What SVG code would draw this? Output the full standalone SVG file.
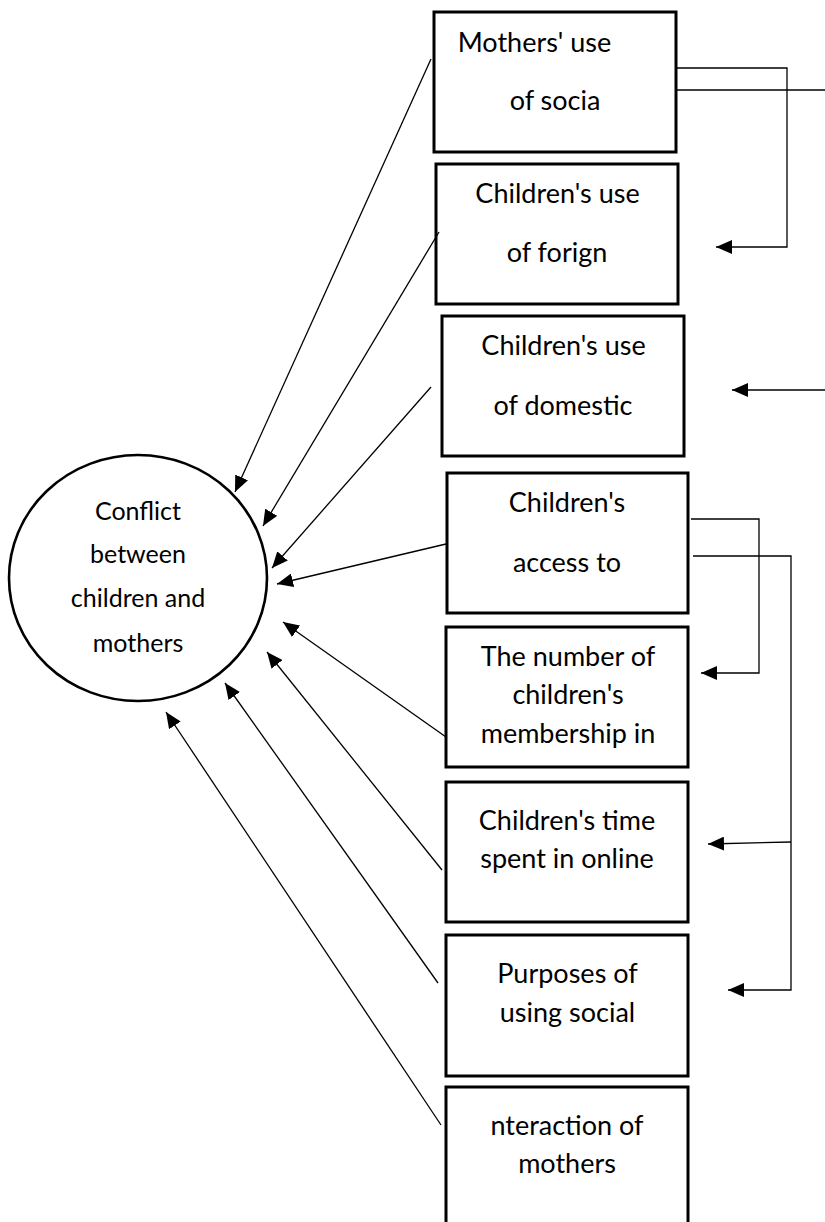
<svg xmlns="http://www.w3.org/2000/svg" width="825" height="1222" viewBox="0 0 825 1222">
<defs>
<marker id="ah" markerWidth="16" markerHeight="14" refX="16" refY="7" orient="auto" markerUnits="userSpaceOnUse">
<path d="M0,0 L16,7 L0,14 Z" fill="#000"/>
</marker>
<style>
.box{fill:#fff;stroke:#000;stroke-width:3}
.t{font-family:Lato,"Liberation Sans",sans-serif;font-size:27px;fill:#000;text-anchor:middle}
.tc{font-family:Lato,"Liberation Sans",sans-serif;font-size:25px;fill:#000;text-anchor:middle}
.c{fill:none;stroke:#000;stroke-width:1.3}
.ca{fill:none;stroke:#000;stroke-width:1.3;marker-end:url(#ah)}
</style>
</defs>
<rect width="825" height="1222" fill="#fff"/>
<g id="conflict">
<ellipse cx="138" cy="578" rx="129" ry="123" fill="#fff" stroke="#000" stroke-width="2.6"/>
<text class="tc" x="138" y="520">Conflict</text>
<text class="tc" x="138" y="563">between</text>
<text class="tc" x="138" y="607">children and</text>
<text class="tc" x="138" y="652">mothers</text>
</g>
<g id="box1">
<rect class="box" x="434" y="12" width="242" height="140"/>
<text class="t" x="534.5" y="52">Mothers' use</text>
<text class="t" x="555" y="110">of socia</text>
</g>
<g id="box2">
<rect class="box" x="436" y="164" width="242" height="140"/>
<text class="t" x="557.5" y="203">Children's use</text>
<text class="t" x="557" y="262">of forign</text>
</g>
<g id="box3">
<rect class="box" x="442" y="316" width="242" height="140"/>
<text class="t" x="563.5" y="355">Children's use</text>
<text class="t" x="563" y="415">of domestic</text>
</g>
<g id="box4">
<rect class="box" x="447" y="473" width="241" height="140"/>
<text class="t" x="567" y="512">Children's</text>
<text class="t" x="567" y="572">access to</text>
</g>
<g id="box5">
<rect class="box" x="446" y="627" width="242" height="140"/>
<text class="t" x="568" y="666">The number of</text>
<text class="t" x="568" y="704">children's</text>
<text class="t" x="568" y="743">membership in</text>
</g>
<g id="box6">
<rect class="box" x="446" y="782" width="242" height="140"/>
<text class="t" x="567" y="830">Children's time</text>
<text class="t" x="567" y="868">spent in online</text>
</g>
<g id="box7">
<rect class="box" x="446" y="935" width="242" height="141"/>
<text class="t" x="567.5" y="983">Purposes of</text>
<text class="t" x="567.5" y="1022">using social</text>
</g>
<g id="box8">
<rect class="box" x="446" y="1087" width="242" height="150"/>
<text class="t" x="567" y="1135">nteraction of</text>
<text class="t" x="567" y="1173">mothers</text>
</g>
<g id="connectors">
<line class="ca" x1="431" y1="59" x2="235" y2="492"/>
<line class="ca" x1="439" y1="232" x2="263" y2="526"/>
<line class="ca" x1="431" y1="387" x2="272" y2="568"/>
<line class="ca" x1="446" y1="544" x2="277" y2="584"/>
<line class="ca" x1="446" y1="737" x2="283" y2="622"/>
<line class="ca" x1="442" y1="870" x2="267" y2="652"/>
<line class="ca" x1="438" y1="983" x2="225" y2="683"/>
<line class="ca" x1="441" y1="1125" x2="166" y2="712"/>
<polyline class="ca" points="677,68 787,68 787,247 716,247"/>
<line class="c" x1="677" y1="90" x2="825" y2="90"/>
<line class="ca" x1="825" y1="390" x2="732" y2="390"/>
<polyline class="ca" points="691,519 759,519 759,673 701,673"/>
<polyline class="ca" points="693,556 791,556 791,990 728,990"/>
<line class="ca" x1="791" y1="842" x2="708" y2="844"/>
</g>
</svg>
